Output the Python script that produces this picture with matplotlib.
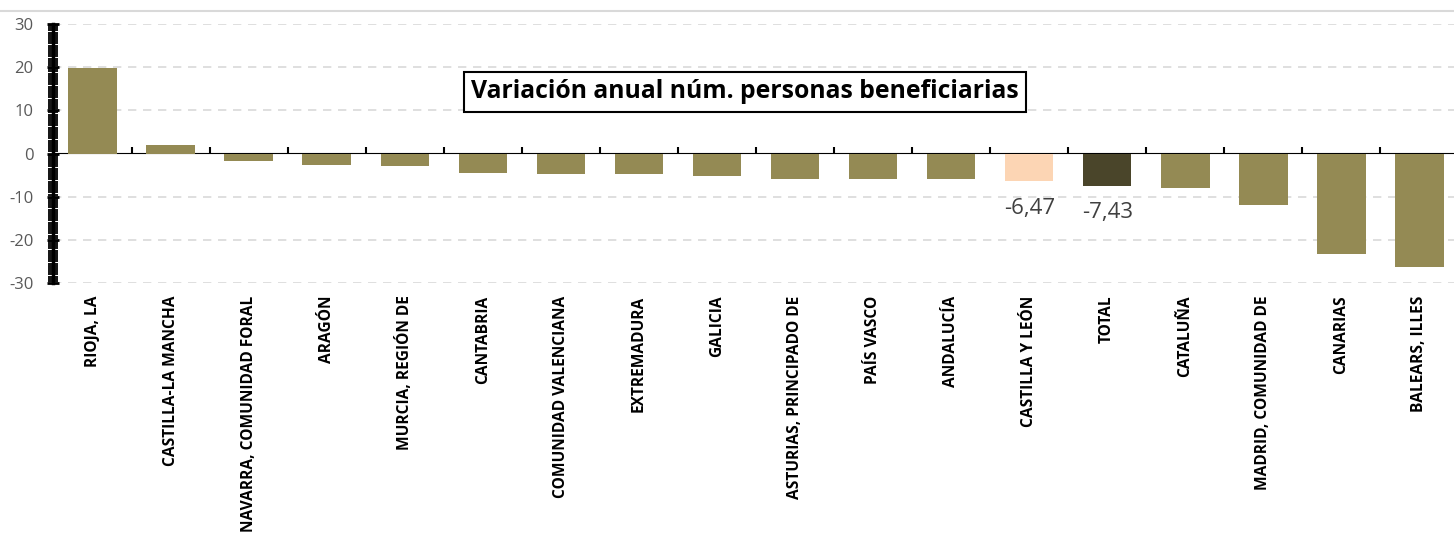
import matplotlib
matplotlib.use("Agg")
import matplotlib.pyplot as plt
from matplotlib.lines import Line2D
import numpy as np

categories = ["RIOJA, LA", "CASTILLA-LA MANCHA", "NAVARRA, COMUNIDAD FORAL", "ARAGÓN",
              "MURCIA, REGIÓN DE", "CANTABRIA", "COMUNIDAD VALENCIANA", "EXTREMADURA",
              "GALICIA", "ASTURIAS, PRINCIPADO DE", "PAÍS VASCO", "ANDALUCÍA",
              "CASTILLA Y LEÓN", "TOTAL", "CATALUÑA", "MADRID, COMUNIDAD DE",
              "CANARIAS", "BALEARS, ILLES"]
values = [19.8, 1.9, -1.7, -2.6, -2.9, -4.5, -4.8, -4.8, -5.3, -5.9, -5.9, -5.9,
          -6.47, -7.43, -7.9, -11.9, -23.3, -26.3]
labeled = {"CASTILLA Y LEÓN": "-6,47", "TOTAL": "-7,43"}
title = "Variación anual núm. personas beneficiarias"
yticks = [-30, -20, -10, 0, 10, 20, 30]

c_default = "#948A54"
c_special = {"CASTILLA Y LEÓN": "#FCD5B4", "TOTAL": "#4A452A"}
colors = [c_special.get(c, c_default) for c in categories]

plt.rcParams['font.family'] = ['Open Sans', 'DejaVu Sans']

W, H = 1454, 537
fig = plt.figure(figsize=(W / 100, H / 100), dpi=100)
left_px, right_px, top_px, bot_px = 53.5, 1458.5, 24, 283
ax = fig.add_axes([left_px / W, 1 - bot_px / H, (right_px - left_px) / W, (bot_px - top_px) / H])

x = np.arange(len(categories))
bars = ax.bar(x, values, width=0.62, color=colors, zorder=3)

ax.set_xlim(-0.5, len(categories) - 0.5)
ax.set_ylim(-30, 30)
ax.set_yticks(yticks)
ax.set_yticklabels([str(v) for v in yticks], color="#595959", fontsize=12)
ax.yaxis.set_minor_locator(matplotlib.ticker.MultipleLocator(0.5))
ax.tick_params(axis='y', which='major', direction='inout', length=9, width=2, color='black', pad=10)
ax.tick_params(axis='y', which='minor', direction='inout', length=7, width=1.3, color='black')

for v in yticks:
    if v != 0:
        ax.axhline(v, color="#D9D9D9", lw=1.2, ls=(0, (5, 4)), zorder=1)

ax.set_xticks(x)
ax.set_xticklabels(categories, rotation=90, ha='center', va='top', fontsize=11.2, fontweight='bold')
ax.tick_params(axis='x', which='both', length=0, pad=9)

for s in ['top', 'right', 'bottom']:
    ax.spines[s].set_visible(False)
ax.spines['left'].set_color('black')
ax.spines['left'].set_linewidth(2.5)

# zero axis with category-boundary ticks
sec = ax.secondary_xaxis(0.5)
sec.set_xticks(np.arange(0.5, len(categories) - 0.5, 1.0))
sec.set_xticklabels([])
sec.tick_params(axis='x', direction='out', length=4, width=1.5, color='black')
sec.spines['bottom'].set_linewidth(2)
sec.spines['bottom'].set_color('black')
sec.spines['bottom'].set_zorder(5)

for b, c, v in zip(bars, categories, values):
    if c in labeled:
        ax.annotate(labeled[c], (b.get_x() + b.get_width() / 2, v), xytext=(0, -27),
                    textcoords='offset pixels', ha='center', va='center',
                    fontsize=16, color="#404040", zorder=6)

ax.text(745 / W, 1 - 92 / H, title, transform=fig.transFigure, ha='center', va='center',
        fontsize=17.8, fontweight='bold', color='black', zorder=10,
        bbox=dict(boxstyle='square,pad=0.3', facecolor='white', edgecolor='black', linewidth=1.5))

fig.add_artist(Line2D([0, 1], [1 - 11 / H, 1 - 11 / H], transform=fig.transFigure,
                      color="#D9D9D9", lw=1.5))

fig.savefig("out.png", dpi=100)
